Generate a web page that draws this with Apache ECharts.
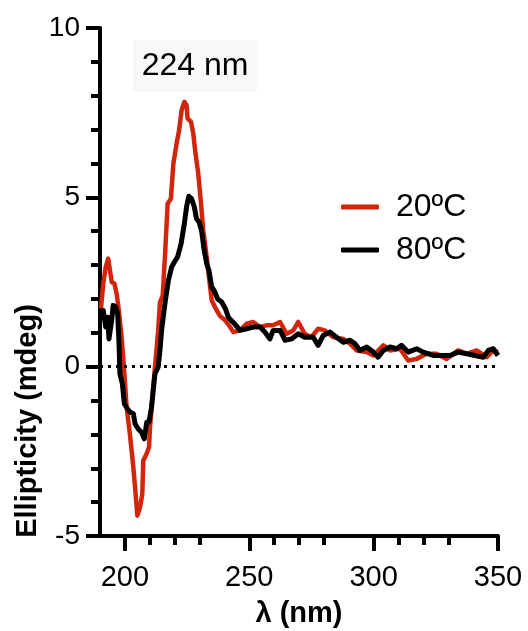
<!DOCTYPE html>
<html>
<head>
<meta charset="utf-8">
<script src="https://cdn.jsdelivr.net/npm/echarts@6/dist/echarts.min.js"></script>
<style>html,body{margin:0;padding:0;background:#fff}#c{width:528px;height:631px}</style>
</head>
<body>
<div id="c"></div>
<script>
// Wavelength (nm) and ellipticity (mdeg)
var x20 = [190.4,191.3,192.3,193.3,194.0,194.7,195.8,196.7,197.4,198.7,199.8,200.7,202.0,203.4,204.1,205.0,206.1,207.0,207.4,208.7,209.7,210.1,211.0,212.1,213.4,214.1,215.2,216.1,217.2,218.5,219.5,220.8,221.8,222.8,223.9,224.8,225.2,226.6,227.5,228.4,229.5,230.6,231.5,232.9,233.8,234.9,236.2,238.2,240.3,242.3,243.6,246.3,249.0,251.6,254.3,257.0,259.6,262.4,265.0,267.7,269.7,272.3,275.0,277.7,280.4,283.8,287.8,290.5,293.2,297.2,299.9,303.9,306.6,310.6,313.9,317.3,321.3,325.3,329.3,334.0,337.4,341.4,345.4,348.1,350.0];
var y20 = [1.72,2.45,2.94,3.19,3.2,2.5,2.45,2.15,1.76,0.87,-0.21,-1.2,-1.98,-2.97,-3.56,-4.4,-4.15,-3.76,-2.77,-2.58,-2.38,-1.79,-1.0,0.0,1.07,1.9,2.1,3.24,4.82,4.96,6.0,6.59,6.98,7.57,7.82,7.72,7.33,7.23,6.88,6.29,5.7,4.82,4.03,3.24,2.65,1.96,1.76,1.5,1.37,1.17,1.02,1.07,1.27,1.32,1.17,1.22,1.22,1.32,0.97,1.07,1.32,0.97,0.87,1.12,1.07,0.87,0.82,0.68,0.48,0.43,0.33,0.63,0.48,0.53,0.18,0.23,0.38,0.38,0.23,0.48,0.38,0.48,0.28,0.48,0.43];
var x80 = [190.4,191.3,192.3,193.1,193.6,194.7,195.3,196.3,197.1,197.6,198.0,199.0,199.8,200.7,202.0,203.4,204.1,205.4,206.7,207.8,208.8,209.7,210.7,211.4,212.1,213.4,214.1,214.8,216.1,217.5,218.8,219.9,221.2,222.6,223.9,224.8,225.7,226.8,227.9,228.8,229.8,230.8,231.9,232.9,233.8,234.9,235.9,237.3,238.9,240.5,241.6,242.3,244.3,246.3,249.0,251.6,254.3,256.3,258.3,259.6,262.4,264.4,267.0,269.7,272.3,275.7,277.7,279.7,282.5,285.1,287.8,290.5,292.5,294.5,297.2,299.9,301.8,303.9,306.6,309.2,311.2,313.9,317.3,319.9,323.9,328.0,330.7,334.0,337.4,340.7,344.1,346.1,348.1,350.0];
var y80 = [1.46,1.66,1.17,1.46,0.82,1.37,1.81,1.76,1.56,0.78,-0.21,-0.51,-1.1,-1.2,-1.34,-1.39,-1.69,-1.84,-1.94,-2.13,-1.64,-1.64,-1.2,-0.7,-0.21,-0.01,0.48,1.1,1.86,2.55,2.94,3.09,3.24,3.63,4.22,4.72,5.03,4.96,4.72,4.37,4.27,4.03,3.43,3.04,2.84,2.35,2.25,2.0,1.91,1.7,1.46,1.4,1.25,1.07,1.12,1.17,1.17,1.02,0.82,1.07,1.07,0.78,0.82,0.97,0.87,0.87,0.63,0.92,1.02,0.87,0.72,0.78,0.68,0.48,0.58,0.43,0.28,0.48,0.58,0.53,0.63,0.43,0.53,0.43,0.33,0.33,0.33,0.43,0.38,0.33,0.28,0.48,0.53,0.33];
var seriesNames = ['20ºC', '80ºC'];
var xTitle = 'λ (nm)';
var yTitle = 'Ellipticity (mdeg)';
var annotation = '224 nm';

function pairs(xs, ys) { return xs.map(function (x, i) { return [x, ys[i]]; }); }

var FONT = 'Arial, "Liberation Sans", Helvetica, sans-serif';
var RED = '#d2260c';

var chart = echarts.init(document.getElementById('c'), null, { renderer: 'canvas' });
chart.setOption({
  animation: false,
  backgroundColor: '#fff',
  grid: { left: 100, right: 30, top: 28, bottom: 95, containLabel: false },
  xAxis: {
    type: 'value', min: 190, max: 350, interval: 50,
    axisLine: { show: true, onZero: false, lineStyle: { color: '#000', width: 4 } },
    axisTick: { show: true, length: 15, lineStyle: { color: '#000', width: 4 },
      customValues: [200, 250, 300, 350] },
    minorTick: { show: true, splitNumber: 5, length: 9, lineStyle: { color: '#000', width: 4 } },
    axisLabel: { color: '#000', fontSize: 29, fontFamily: FONT, margin: 27,
      customValues: [200, 250, 300, 350] },
    splitLine: { show: false }
  },
  yAxis: {
    type: 'value', min: -5, max: 10, interval: 5,
    axisLine: { show: true, onZero: false, lineStyle: { color: '#000', width: 4 } },
    axisTick: { show: true, length: 14, lineStyle: { color: '#000', width: 4 } },
    minorTick: { show: true, splitNumber: 5, length: 9, lineStyle: { color: '#000', width: 4 } },
    axisLabel: { color: '#000', fontSize: 28, fontFamily: FONT, margin: 20 },
    splitLine: { show: false }
  },
  legend: {
    left: 336, top: 186, orient: 'vertical', itemGap: 11,
    itemWidth: 38, itemHeight: 5, icon: 'roundRect',
    textStyle: { fontSize: 32, fontFamily: FONT, color: '#000', lineHeight: 32, padding: [0, 0, 0, 12] },
    data: seriesNames
  },
  series: [
    { name: seriesNames[0], type: 'line', data: pairs(x20, y20), showSymbol: false, symbol: 'none',
      lineStyle: { color: RED, width: 4.5, join: 'round' }, itemStyle: { color: RED },
      markLine: { silent: true, symbol: 'none', label: { show: false }, animation: false,
        lineStyle: { color: '#000', width: 3, type: [3, 5] }, data: [{ yAxis: 0 }] },
      z: 2 },
    { name: seriesNames[1], type: 'line', data: pairs(x80, y80), showSymbol: false, symbol: 'none',
      lineStyle: { color: '#000', width: 5, join: 'round' }, itemStyle: { color: '#000' }, z: 3 }
  ],
  graphic: [
    { type: 'rect', left: 133, top: 40, shape: { width: 124, height: 52 }, style: { fill: '#f8f8f8' }, z: 0 },
    { type: 'text', x: 195, y: 66, style: { text: annotation, font: '32px ' + FONT, fill: '#000', textAlign: 'center', textVerticalAlign: 'middle' }, z: 10 },
    { type: 'text', x: 299, y: 614, style: { text: xTitle, font: 'bold 29px ' + FONT, fill: '#000', textAlign: 'center', textVerticalAlign: 'middle' } },
    { type: 'text', x: 28, y: 421, rotation: Math.PI / 2, style: { text: yTitle, font: 'bold 29px ' + FONT, fill: '#000', textAlign: 'center', textVerticalAlign: 'middle' } }
  ]
});
</script>
</body>
</html>
